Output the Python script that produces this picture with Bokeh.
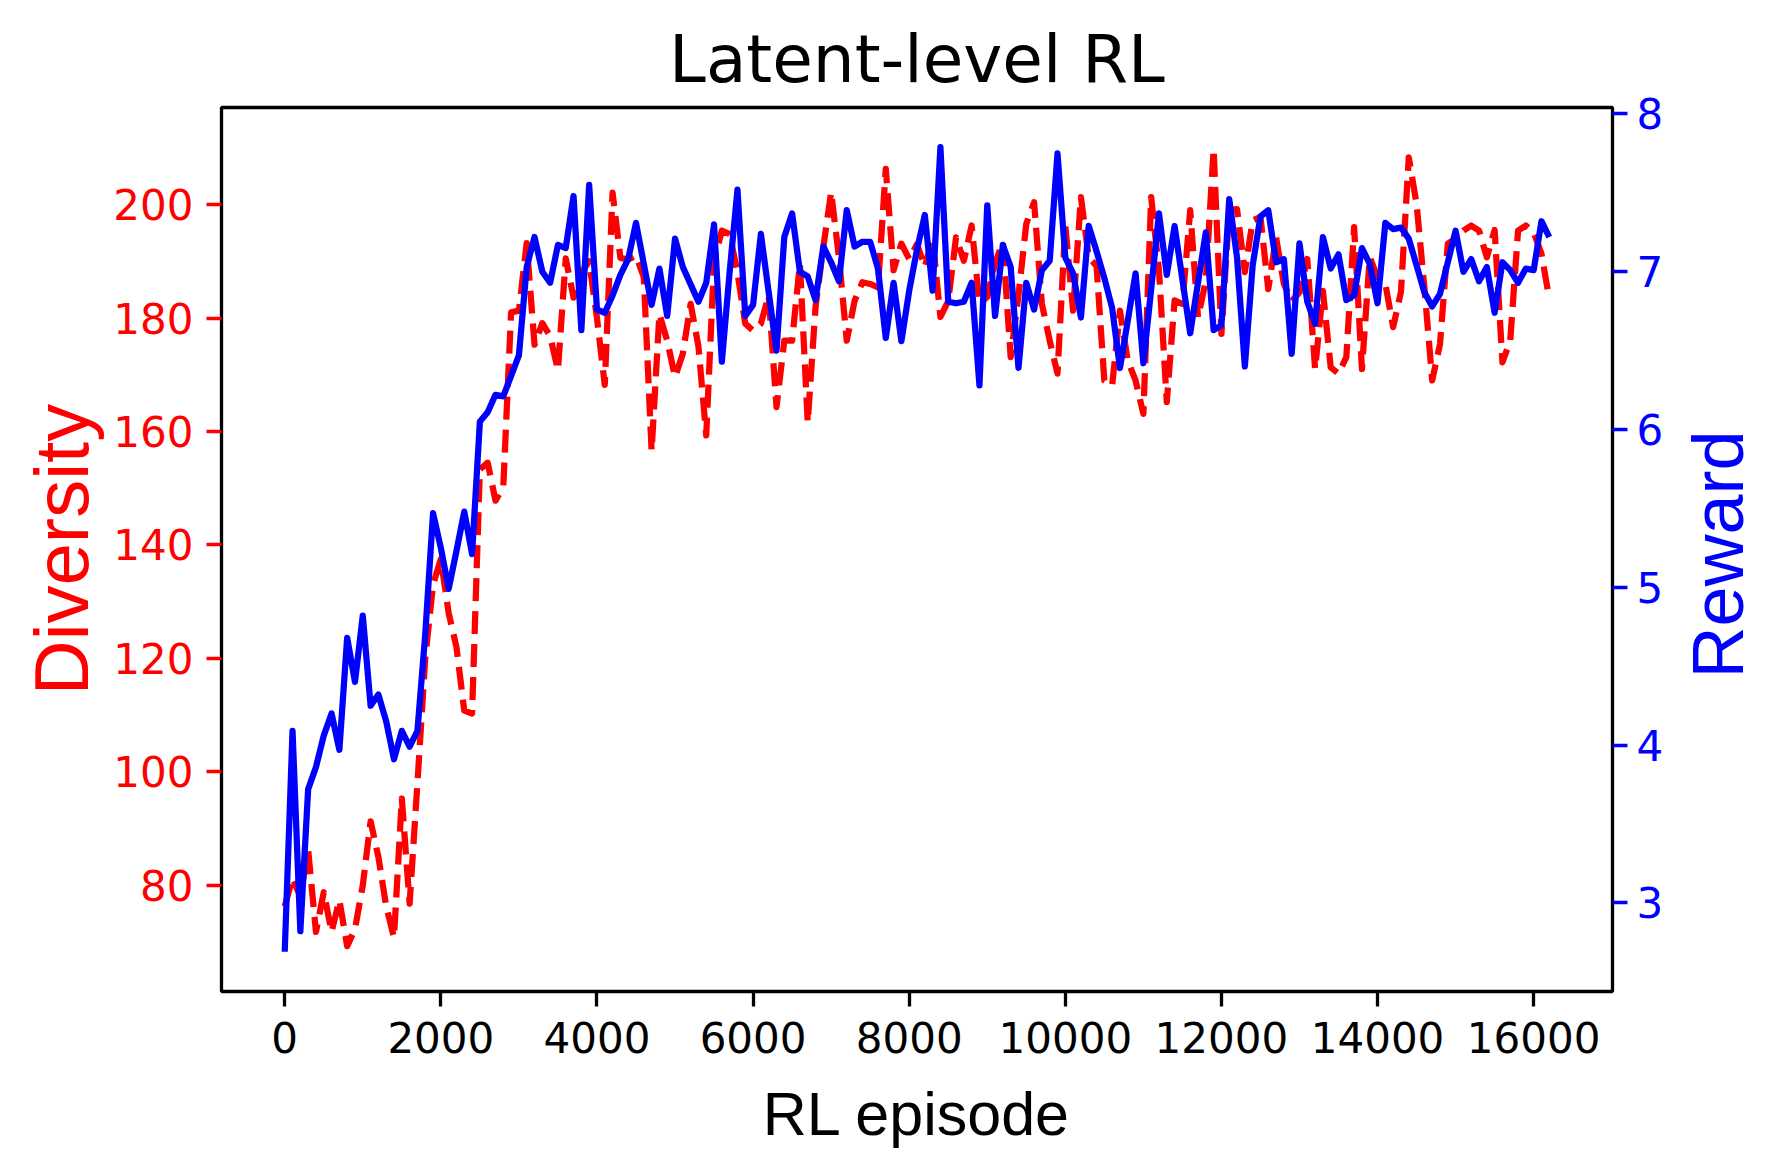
import math
from bokeh.plotting import figure
from bokeh.layouts import row
from bokeh.models import Range1d, LinearAxis, FixedTicker, ColumnDataSource
from bokeh.embed import file_html
from bokeh.resources import INLINE

# ---------------- data ----------------
episodes = list(range(0, 16300, 100))

diversity = [
    76.3, 81.3, 78.0, 86.3, 71.8, 78.8, 71.8, 77.4, 69.3, 72.3,
    80.0, 91.3, 85.0, 76.3, 70.8, 95.3, 76.8, 98.0, 120.0, 133.0,
    137.5, 128.0, 122.0, 110.8, 110.3, 153.3, 154.5, 147.8, 150.3, 181.0,
    181.3, 193.2, 175.3, 179.1, 176.8, 170.8, 190.5, 183.6, 188.0, 190.0,
    180.0, 168.2, 202.1, 190.6, 190.3, 191.0, 187.2, 156.6, 180.7, 176.0,
    169.6, 173.7, 182.5, 175.0, 159.3, 190.0, 195.4, 194.8, 188.0, 179.0,
    177.8, 179.0, 184.0, 164.3, 176.0, 176.0, 189.6, 161.6, 181.9, 192.5,
    202.2, 190.7, 176.0, 183.0, 186.3, 186.0, 185.4, 206.3, 188.4, 193.1,
    190.4, 193.0, 189.0, 194.0, 180.2, 183.0, 194.2, 190.1, 196.3, 182.5,
    183.7, 189.6, 193.4, 173.1, 184.0, 196.6, 200.4, 182.5, 176.0, 170.2,
    196.3, 181.3, 201.3, 190.7, 189.2, 169.0, 168.1, 181.3, 172.5, 169.0,
    163.1, 201.3, 188.4, 165.2, 183.1, 182.5, 199.0, 180.1, 186.6, 209.8,
    177.2, 199.0, 199.2, 188.1, 197.2, 197.8, 185.1, 194.2, 186.0, 183.0,
    184.5, 190.4, 171.0, 184.8, 171.3, 170.2, 173.1, 196.0, 171.0, 190.7,
    187.2, 186.0, 178.4, 184.6, 208.3, 200.1, 185.4, 169.0, 175.4, 193.1,
    194.0, 195.4, 196.3, 195.4, 190.7, 195.5, 172.2, 176.0, 195.4, 196.3,
    195.1, 191.3, 183.4,
]

reward = [
    2.69, 4.09, 2.82, 3.72, 3.86, 4.06, 4.20, 3.97, 4.68, 4.40,
    4.82, 4.25, 4.32, 4.15, 3.91, 4.09, 3.99, 4.09, 4.70, 5.47,
    5.25, 4.99, 5.23, 5.48, 5.21, 6.05, 6.11, 6.22, 6.21, 6.34,
    6.47, 7.03, 7.22, 7.00, 6.93, 7.17, 7.15, 7.48, 6.63, 7.55,
    6.76, 6.74, 6.85, 6.98, 7.08, 7.31, 7.05, 6.79, 7.02, 6.72,
    7.21, 7.03, 6.92, 6.81, 6.93, 7.30, 6.43, 7.00, 7.52, 6.72,
    6.79, 7.24, 6.87, 6.50, 7.22, 7.37, 7.00, 6.97, 6.82, 7.16,
    7.06, 6.94, 7.39, 7.16, 7.19, 7.19, 7.02, 6.58, 6.93, 6.56,
    6.88, 7.14, 7.36, 6.88, 7.79, 6.81, 6.80, 6.81, 6.93, 6.28,
    7.42, 6.72, 7.17, 7.03, 6.39, 6.93, 6.76, 7.01, 7.07, 7.75,
    7.09, 6.99, 6.71, 7.29, 7.13, 6.96, 6.77, 6.39, 6.69, 6.99,
    6.42, 6.89, 7.37, 6.98, 7.29, 6.95, 6.61, 6.93, 7.25, 6.63,
    6.66, 7.46, 7.09, 6.40, 7.04, 7.35, 7.39, 7.06, 7.08, 6.48,
    7.18, 6.81, 6.67, 7.22, 7.02, 7.11, 6.82, 6.85, 7.15, 7.05,
    6.80, 7.31, 7.27, 7.28, 7.21, 7.04, 6.87, 6.78, 6.86, 7.06,
    7.26, 7.00, 7.08, 6.94, 7.03, 6.74, 7.06, 7.01, 6.93, 7.02,
    7.01, 7.32, 7.22,
]

x_ticks = [0, 2000, 4000, 6000, 8000, 10000, 12000, 14000, 16000]
diversity_ticks = [80, 100, 120, 140, 160, 180, 200]
reward_ticks = [3, 4, 5, 6, 7, 8]

title_text = "Latent-level RL"
x_label = "RL episode"
left_label = "Diversity"
right_label = "Reward"

RED = "#ff0000"
BLUE = "#0000ff"

n = min(len(episodes), len(diversity), len(reward))
src = ColumnDataSource(dict(ep=episodes[:n], div=diversity[:n], rew=reward[:n]))

FRAME_W = 1391
FRAME_H = 884
BORDER_L, BORDER_R, BORDER_T, BORDER_B = 221, 60, 107, 168
FIG_H = BORDER_T + FRAME_H + BORDER_B
SIDE_W = 76

# ---------------- main figure ----------------
p = figure(
    frame_width=FRAME_W, frame_height=FRAME_H,
    min_border_left=BORDER_L, min_border_right=BORDER_R,
    min_border_top=BORDER_T, min_border_bottom=BORDER_B,
    x_range=Range1d(-810, 17010),
    y_range=Range1d(61.3, 217.1),
    output_backend="svg", toolbar_location=None,
    title=title_text,
)
p.extra_y_ranges = {"reward": Range1d(2.438, 8.041)}

p.background_fill_color = "white"
p.border_fill_color = "white"
p.outline_line_color = "black"
p.outline_line_width = 3.3
p.xgrid.visible = False
p.ygrid.visible = False

p.title.text_font = "DejaVu Sans"
p.title.text_font_size = "66px"
p.title.text_font_style = "normal"
p.title.text_color = "black"
p.title.align = "center"
p.title.standoff = 20

TICK_FONT = "DejaVu Sans"
LABEL_FONT = "Liberation Sans"


def style_axis(ax, color):
    ax.axis_line_color = None
    ax.major_tick_out = 15
    ax.major_tick_in = 0
    ax.major_tick_line_width = 3.3
    ax.major_tick_line_color = color
    ax.minor_tick_line_color = None
    ax.major_label_text_font = TICK_FONT
    ax.major_label_text_font_size = "42px"
    ax.major_label_text_color = color
    ax.axis_label_text_font = LABEL_FONT
    ax.axis_label_text_font_style = "normal"
    ax.axis_label_text_color = color


xa = p.xaxis[0]
xa.ticker = FixedTicker(ticks=x_ticks)
style_axis(xa, "black")
xa.axis_label = x_label
xa.axis_label_text_font_size = "61px"
xa.axis_label_standoff = 24
xa.major_label_standoff = 15

ya = p.yaxis[0]
ya.ticker = FixedTicker(ticks=diversity_ticks)
style_axis(ya, RED)
ya.axis_label = left_label
ya.axis_label_text_font_size = "76px"
ya.axis_label_standoff = 6
ya.major_label_standoff = 13

ra = LinearAxis(y_range_name="reward", ticker=FixedTicker(ticks=reward_ticks))
style_axis(ra, BLUE)
ra.major_label_standoff = 9
p.add_layout(ra, "right")

p.line("ep", "div", source=src, line_color=RED, line_width=6.25,
       line_dash="23 10", line_join="round")
p.line("ep", "rew", source=src, line_color=BLUE, line_width=6.25,
       line_join="round", y_range_name="reward")

# ---------------- side strip holding the right-hand axis title ----------------
side = figure(
    width=SIDE_W, height=FIG_H,
    x_range=Range1d(0, SIDE_W), y_range=Range1d(0, FIG_H),
    x_axis_location=None, y_axis_location=None,
    min_border=0, output_backend="svg", toolbar_location=None,
)
side.outline_line_color = None
side.xgrid.visible = False
side.ygrid.visible = False
side.background_fill_color = "white"
side.border_fill_color = "white"
side.text(
    x=[45], y=[FIG_H - 586], text=[right_label],
    angle=math.pi / 2, text_align="center", text_baseline="alphabetic",
    text_font={"value": LABEL_FONT}, text_font_size={"value": "72px"},
    text_color=BLUE,
)

layout = row(p, side, spacing=0)
open("out.html", "w").write(file_html(layout, INLINE))
